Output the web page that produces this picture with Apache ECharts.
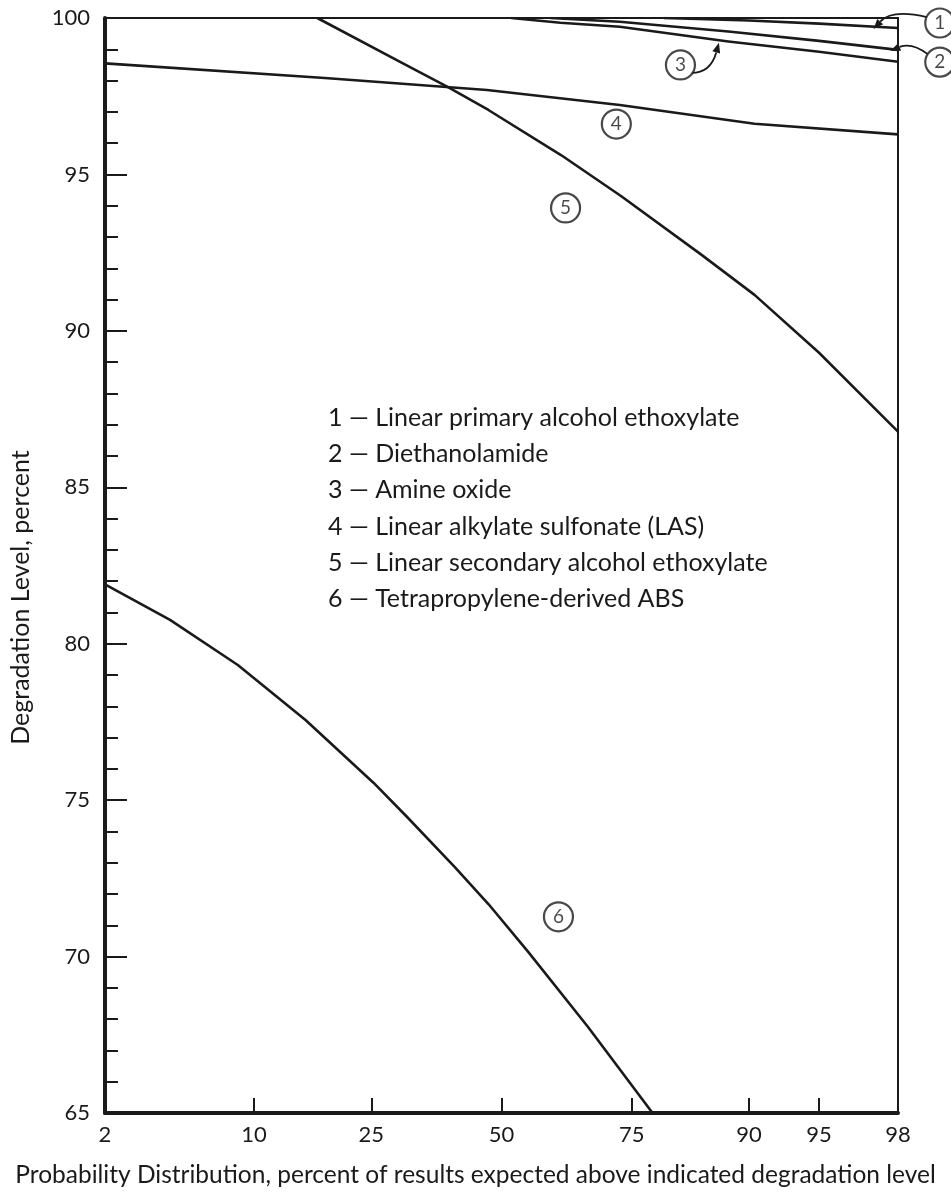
<!DOCTYPE html>
<html>
<head>
<meta charset="utf-8">
<script src="https://cdn.jsdelivr.net/npm/echarts@6/dist/echarts.min.js"></script>
<style>
html,body{margin:0;padding:0;background:#fff;}
#c{width:951px;height:1197px;}
</style>
</head>
<body>
<div id="c"></div>
<script>
// ---- data ----
const probLabels = [2, 10, 25, 50, 75, 90, 95, 98];
const probTicks = [10, 25, 50, 75, 90, 95];
const yMin = 65, yMax = 100, yStep = 5;

const c1P = [80, 90, 95, 98];
const c1V = [100, 99.92, 99.82, 99.68];
const c2P = [60, 73, 88, 95, 98];
const c2V = [100, 99.88, 99.57, 99.27, 98.98];
const c3P = [52, 62, 73, 88, 95, 98];
const c3V = [100, 99.85, 99.72, 99.25, 98.92, 98.6];
const c4P = [2, 18, 47, 73, 90.5, 98];
const c4V = [98.55, 98.08, 97.7, 97.22, 96.62, 96.28];
const c5P = [17, 31, 39, 47.3, 62.1, 73.2, 85, 90.5, 95, 98];
const c5V = [100, 98.5, 97.8, 97.06, 95.62, 94.31, 92.43, 91.15, 89.3, 86.78];
const c6P = [2, 4.3, 8.6, 15.5, 25.4, 31.2, 40.4, 47.3, 55.5, 67.3, 78.3];
const c6V = [81.9, 80.76, 79.32, 77.56, 75.55, 74.47, 72.87, 71.68, 70.15, 67.75, 65.0];

const legendLines = [
  '1 \u2014 Linear primary alcohol ethoxylate',
  '2 \u2014 Diethanolamide',
  '3 \u2014 Amine oxide',
  '4 \u2014 Linear alkylate sulfonate (LAS)',
  '5 \u2014 Linear secondary alcohol ethoxylate',
  '6 \u2014 Tetrapropylene-derived ABS'
];
const circleNames = ['1', '2', '3', '4', '5', '6'];
const circleP = [98.84, 98.84, 82.3, 72.4, 63.0, 61.6];
const circleV = [99.84, 98.59, 98.5, 96.61, 93.93, 71.27];
// arrow tips on curves 1,2,3 (probability, level)
const arrowTipP = [97.3, 97.8, 87.0];
const arrowTipV = [99.71, 99.02, 99.27];

const xTitle = 'Probability Distribution, percent of results expected above indicated degradation level';
const yTitle = 'Degradation Level, percent';

// ---- normal probability scale (inverse normal CDF, Acklam) ----
function probit(pct) {
  const p = pct / 100;
  const a = [-3.969683028665376e+01, 2.209460984245205e+02, -2.759285104469687e+02, 1.383577518672690e+02, -3.066479806614716e+01, 2.506628277459239e+00];
  const b = [-5.447609879822406e+01, 1.615858368580409e+02, -1.556989798598866e+02, 6.680131188771972e+01, -1.328068155288572e+01];
  const c = [-7.784894002430293e-03, -3.223964580411365e-01, -2.400758277161838e+00, -2.549732539343734e+00, 4.374664141464968e+00, 2.938163982698783e+00];
  const d = [7.784695709041462e-03, 3.224671290700398e-01, 2.445134137142996e+00, 3.754408661907416e+00];
  const pl = 0.02425, ph = 1 - pl;
  let q, r;
  if (p < pl) {
    q = Math.sqrt(-2 * Math.log(p));
    return (((((c[0]*q+c[1])*q+c[2])*q+c[3])*q+c[4])*q+c[5]) / ((((d[0]*q+d[1])*q+d[2])*q+d[3])*q+1);
  } else if (p <= ph) {
    q = p - 0.5; r = q * q;
    return (((((a[0]*r+a[1])*r+a[2])*r+a[3])*r+a[4])*r+a[5])*q / (((((b[0]*r+b[1])*r+b[2])*r+b[3])*r+b[4])*r+1);
  } else {
    q = Math.sqrt(-2 * Math.log(1 - p));
    return -(((((c[0]*q+c[1])*q+c[2])*q+c[3])*q+c[4])*q+c[5]) / ((((d[0]*q+d[1])*q+d[2])*q+d[3])*q+1);
  }
}
function pairs(P, V) { return P.map((p, i) => [probit(p), V[i]]); }

const FONT = 'Lato';
const INK = '#1a1a1a';

const chart = echarts.init(document.getElementById('c'), null, {renderer: 'canvas'});

function lineSeries(name, P, V) {
  return {
    name: name, type: 'line', data: pairs(P, V), showSymbol: false, symbol: 'none',
    smooth: false, lineStyle: {color: INK, width: 2.6, join: 'round'}, z: 3, silent: true
  };
}

const option = {
  animation: false,
  backgroundColor: '#fff',
  grid: {left: 104, right: 53, top: 18, bottom: 84, show: true, borderColor: INK, borderWidth: 2, backgroundColor: 'transparent'},
  xAxis: {
    type: 'value',
    min: probit(probLabels[0]), max: probit(probLabels[probLabels.length - 1]),
    splitLine: {show: false},
    axisLine: {show: true, onZero: false, lineStyle: {color: INK, width: 4}},
    axisTick: {show: true, inside: true, length: 15, customValues: probTicks.map(probit), lineStyle: {color: INK, width: 2}},
    axisLabel: {
      show: true, customValues: probLabels.map(probit), margin: 11,
      fontFamily: FONT, fontSize: 22, color: INK,
      formatter: function (v) {
        let best = probLabels[0], bd = 1e9;
        probLabels.forEach(p => { const dd = Math.abs(probit(p) - v); if (dd < bd) { bd = dd; best = p; } });
        return String(best);
      }
    },
    name: xTitle, nameLocation: 'middle', nameGap: 50,
    nameTextStyle: {fontFamily: FONT, fontSize: 24.5, color: INK, padding: [0, 52, 0, 0]}
  },
  yAxis: {
    type: 'value', min: yMin, max: yMax, interval: yStep,
    splitLine: {show: false},
    axisLine: {show: true, onZero: false, lineStyle: {color: INK, width: 4}},
    axisTick: {show: true, inside: true, length: 22, lineStyle: {color: INK, width: 2}},
    minorTick: {show: true, splitNumber: 5, length: 13, lineStyle: {color: INK, width: 2}},
    axisLabel: {fontFamily: FONT, fontSize: 22, color: INK, margin: 15},
    name: yTitle, nameLocation: 'middle', nameRotate: 90, nameGap: 72,
    nameTextStyle: {fontFamily: FONT, fontSize: 25, color: INK, padding: [0, 64, 0, 0]}
  },
  series: [
    lineSeries('1', c1P, c1V),
    lineSeries('2', c2P, c2V),
    lineSeries('3', c3P, c3V),
    lineSeries('4', c4P, c4V),
    lineSeries('5', c5P, c5V),
    lineSeries('6', c6P, c6V),
    {
      name: 'labels', type: 'scatter', clip: false, silent: true, z: 5,
      data: circleNames.map((n, i) => ({name: n, value: [probit(circleP[i]), circleV[i]]})),
      symbol: 'circle', symbolSize: 29,
      itemStyle: {color: '#fff', borderColor: INK, borderWidth: 2.2},
      label: {show: true, position: 'inside', formatter: '{b}', fontFamily: FONT, fontSize: 19, color: INK}
    }
  ]
};
chart.setOption(option);

// legend text block and arrows (annotations)
const graphics = [];
legendLines.forEach((t, i) => {
  graphics.push({
    type: 'text', x: 328, y: 418 + i * 36.2, silent: true,
    style: {text: t, fontFamily: FONT, fontSize: 25, fill: INK, verticalAlign: 'middle', align: 'left'}
  });
});
function arrowTo(start, ctrl, tip) {
  const dx = tip[0] - ctrl[0], dy = tip[1] - ctrl[1];
  const L = Math.hypot(dx, dy), ux = dx / L, uy = dy / L;
  const head = 10, w = 4;
  const bx = tip[0] - ux * head, by = tip[1] - uy * head;
  graphics.push({type: 'bezierCurve', silent: true, shape: {x1: start[0], y1: start[1], x2: bx, y2: by, cpx1: ctrl[0], cpy1: ctrl[1]},
    style: {stroke: INK, lineWidth: 1.8, fill: null}});
  graphics.push({type: 'polygon', silent: true, shape: {points: [tip, [bx - uy * w, by + ux * w], [bx + uy * w, by - ux * w]]},
    style: {fill: INK}});
}
const cpx = circleNames.map((n, i) => chart.convertToPixel({gridIndex: 0}, [probit(circleP[i]), circleV[i]]));
const tips = arrowTipP.map((p, i) => {
  const q = chart.convertToPixel({gridIndex: 0}, [probit(p), arrowTipV[i]]);
  return [q[0], q[1] + 2];
});
arrowTo([cpx[0][0] - 13, cpx[0][1] - 6], [cpx[0][0] - 48, cpx[0][1] - 14], tips[0]);
arrowTo([cpx[1][0] - 12, cpx[1][1] - 8], [cpx[1][0] - 28, cpx[1][1] - 20], tips[1]);
arrowTo([cpx[2][0] + 11, cpx[2][1] + 8], [cpx[2][0] + 30, cpx[2][1] + 8], tips[2]);
chart.setOption({graphic: graphics});
</script>
</body>
</html>
